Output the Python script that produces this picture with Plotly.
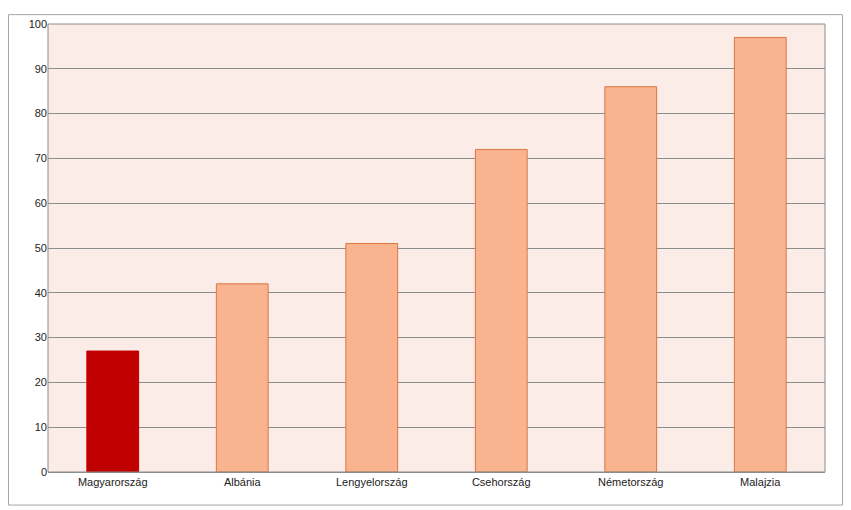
import plotly.graph_objects as go

categories = ["Magyarország", "Albánia", "Lengyelország", "Csehország", "Németország", "Malajzia"]
values = [27, 42, 51, 72, 86, 97]
bar_colors = ["#C00000", "#F9B48F", "#F9B48F", "#F9B48F", "#F9B48F", "#F9B48F"]
line_colors = ["#C00000", "#D9773F", "#D9773F", "#D9773F", "#D9773F", "#D9773F"]
y_ticks = [0, 10, 20, 30, 40, 50, 60, 70, 80, 90, 100]

fig = go.Figure(go.Bar(x=categories, y=values, width=0.4,
                       marker=dict(color=bar_colors, line=dict(color=line_colors, width=1))))
fig.update_layout(
    width=835, height=498,
    margin=dict(l=40, r=18, t=10, b=34),
    paper_bgcolor="white", plot_bgcolor="#FBECE8",
    font=dict(family="Liberation Sans, Arial", size=11, color="#222"),
    showlegend=False,
    shapes=[dict(type="rect", xref="paper", yref="paper", x0=-0.0508, x1=1.0225, y0=-0.0738, y1=1.0209,
                 line=dict(color="#A6A6A6", width=1), layer="below"),
            dict(type="rect", xref="paper", yref="paper", x0=0, x1=1, y0=0, y1=1,
                 line=dict(color="#8C8C8C", width=1))],
)
fig.update_yaxes(range=[0, 100], tickvals=y_ticks, gridcolor="#8C8C8C", gridwidth=1,
                 showline=False, zeroline=False, ticks="", ticklen=0)
fig.update_xaxes(showgrid=False, showline=True, linecolor="#8C8C8C", ticks="")
fig.write_html("out.html")
